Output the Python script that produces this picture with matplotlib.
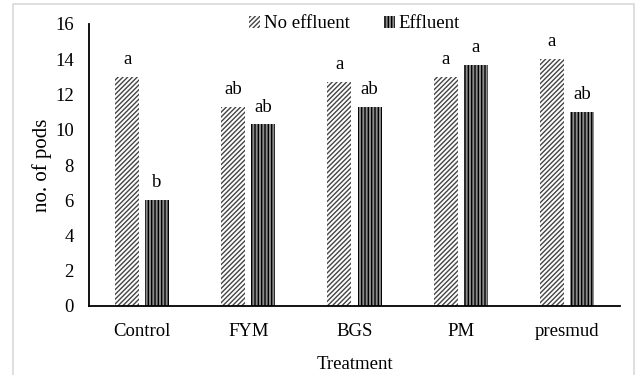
import numpy as np
import matplotlib
matplotlib.use("Agg")
import matplotlib.pyplot as plt
from matplotlib.patches import Rectangle

categories = ["Control", "FYM", "BGS", "PM", "presmud"]
no_effluent = [13.0, 11.3, 12.7, 13.0, 14.0]
effluent = [6.0, 10.3, 11.3, 13.7, 11.0]
no_eff_letters = ["a", "ab", "a", "a", "a"]
eff_letters = ["b", "ab", "ab", "a", "ab"]

plt.rcParams["font.family"] = ["Liberation Serif", "DejaVu Serif"]
plt.rcParams["hatch.linewidth"] = 1.0

fig = plt.figure(figsize=(6.37, 3.75), dpi=100)
ax = fig.add_axes([89 / 637, 1 - 306 / 375, 531 / 637, 282 / 375])

x = np.arange(len(categories))
w = 0.226
gap = 0.057
off = (w + gap) / 2

ax.bar(x - off, no_effluent, w, color="white", edgecolor="#444444",
       hatch="///////", linewidth=0, label="No effluent")
ax.bar(x + off, effluent, w, color="#8c8c8c", edgecolor="black",
       hatch="|||||", linewidth=0, label="Effluent")

fs = 13.5
for xi, v, t in zip(x - off, no_effluent, no_eff_letters):
    ax.text(xi, v + 0.5, t, ha="center", va="bottom", fontsize=fs)
for xi, v, t in zip(x + off, effluent, eff_letters):
    ax.text(xi, v + 0.5, t, ha="center", va="bottom", fontsize=fs)

ax.set_xlim(-0.5, len(categories) - 0.5)
ax.set_ylim(0, 16)
ax.set_yticks(range(0, 17, 2))
ax.set_xticks(x)
ax.set_xticklabels(categories)
ax.tick_params(axis="both", length=0, labelsize=fs)
ax.tick_params(axis="x", pad=12)
ax.tick_params(axis="y", pad=11)
for s in ["top", "right"]:
    ax.spines[s].set_visible(False)
ax.spines["left"].set_linewidth(1.3)
ax.spines["bottom"].set_linewidth(1.3)

ax.set_xlabel("Treatment", fontsize=fs, labelpad=12)
ax.set_ylabel("no. of pods", fontsize=15, labelpad=2)

ax.legend(loc="upper center", bbox_to_anchor=(0.5, 1.09), ncol=2, frameon=False,
          fontsize=fs, handlelength=0.6, handleheight=0.6, handletextpad=0.2,
          columnspacing=1.8)

fig.patches.append(Rectangle((13 / 637, -0.1), 621 / 637, 1.09, transform=fig.transFigure,
                             fill=False, edgecolor="#d9d9d9", linewidth=1.2))

fig.savefig("out.png", dpi=100)
